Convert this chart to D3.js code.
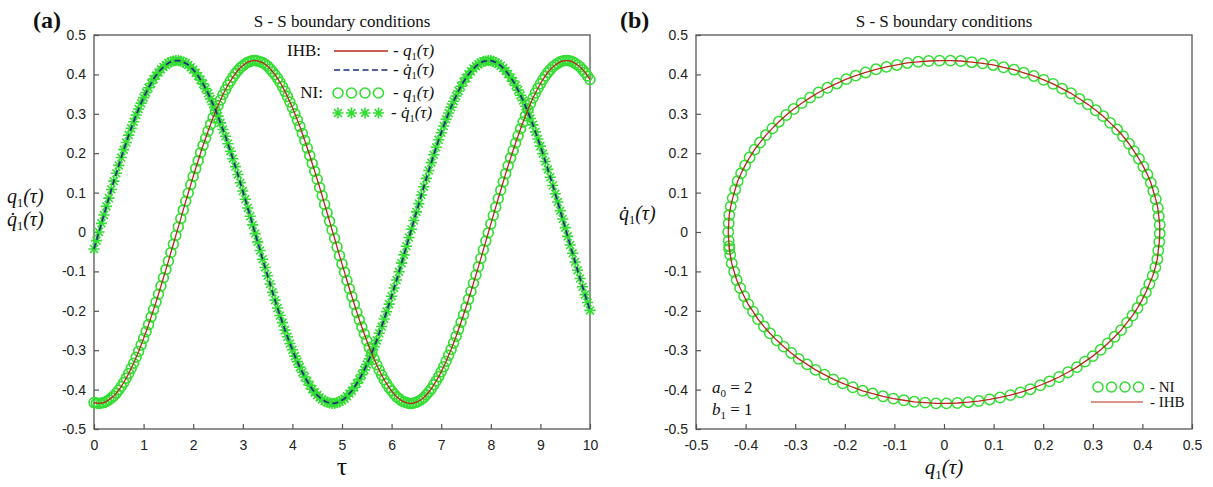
<!DOCTYPE html>
<html><head><meta charset="utf-8">
<script src="https://cdn.jsdelivr.net/npm/d3@7"></script>
<style>body{margin:0;background:#fff} svg{display:block}</style>
</head><body>
<svg id="c" width="1213" height="487"></svg>
<script>
// ---- data ----
const tauStep = 0.05;            // NI / IHB sampling step in tau
const q1 = [
-0.433,-0.434,-0.435,-0.434,-0.433,-0.430,-0.426,-0.421,-0.416,-0.409,
-0.401,-0.392,-0.382,-0.371,-0.359,-0.346,-0.333,-0.318,-0.303,-0.287,
-0.270,-0.253,-0.235,-0.216,-0.197,-0.178,-0.158,-0.137,-0.116,-0.095,
-0.074,-0.052,-0.031,-0.009,0.013,0.034,0.056,0.078,0.099,0.120,
0.141,0.161,0.181,0.201,0.220,0.238,0.256,0.273,0.290,0.306,
0.321,0.335,0.349,0.361,0.373,0.383,0.393,0.402,0.410,0.417,
0.422,0.427,0.431,0.433,0.435,0.435,0.434,0.432,0.430,0.426,
0.421,0.414,0.407,0.399,0.390,0.380,0.369,0.357,0.344,0.330,
0.316,0.300,0.284,0.268,0.250,0.232,0.213,0.194,0.174,0.154,
0.134,0.113,0.092,0.070,0.049,0.027,0.005,-0.016,-0.038,-0.060,
-0.081,-0.102,-0.123,-0.144,-0.164,-0.184,-0.204,-0.223,-0.241,-0.259,
-0.276,-0.293,-0.308,-0.323,-0.337,-0.351,-0.363,-0.375,-0.385,-0.395,
-0.403,-0.411,-0.418,-0.423,-0.428,-0.431,-0.433,-0.435,-0.435,-0.434,
-0.432,-0.429,-0.425,-0.420,-0.413,-0.406,-0.398,-0.388,-0.378,-0.367,
-0.355,-0.342,-0.328,-0.313,-0.298,-0.282,-0.265,-0.247,-0.229,-0.210,
-0.191,-0.171,-0.151,-0.130,-0.109,-0.088,-0.067,-0.045,-0.023,-0.002,
0.020,0.042,0.063,0.085,0.106,0.127,0.148,0.168,0.188,0.207,
0.226,0.244,0.262,0.279,0.295,0.311,0.326,0.340,0.353,0.365,
0.376,0.387,0.396,0.405,0.412,0.419,0.424,0.428,0.432,0.434,
0.435,0.435,0.434,0.432,0.428,0.424,0.419,0.412,0.405,0.396,
0.387];
const q1dot = [
-0.043,-0.022,0.000,0.022,0.043,0.065,0.086,0.108,0.129,0.149,
0.169,0.189,0.209,0.227,0.246,0.263,0.280,0.297,0.312,0.327,
0.341,0.354,0.366,0.377,0.388,0.397,0.405,0.413,0.419,0.424,
0.429,0.432,0.434,0.435,0.435,0.434,0.431,0.428,0.424,0.418,
0.412,0.404,0.396,0.386,0.376,0.364,0.352,0.338,0.324,0.309,
0.294,0.277,0.260,0.243,0.224,0.205,0.186,0.166,0.146,0.125,
0.104,0.083,0.061,0.040,0.018,-0.004,-0.025,-0.047,-0.069,-0.090,
-0.111,-0.132,-0.153,-0.173,-0.193,-0.212,-0.230,-0.249,-0.266,-0.283,
-0.299,-0.315,-0.329,-0.343,-0.356,-0.368,-0.379,-0.389,-0.399,-0.407,
-0.414,-0.420,-0.425,-0.429,-0.432,-0.434,-0.435,-0.435,-0.433,-0.431,
-0.427,-0.423,-0.417,-0.410,-0.403,-0.394,-0.384,-0.374,-0.362,-0.350,
-0.336,-0.322,-0.307,-0.291,-0.275,-0.257,-0.240,-0.221,-0.202,-0.183,
-0.163,-0.142,-0.122,-0.101,-0.079,-0.058,-0.036,-0.014,0.007,0.029,
0.051,0.072,0.094,0.115,0.136,0.156,0.176,0.196,0.215,0.234,
0.252,0.269,0.286,0.302,0.317,0.332,0.345,0.358,0.370,0.381,
0.391,0.400,0.408,0.415,0.421,0.426,0.430,0.433,0.434,0.435,
0.435,0.433,0.430,0.427,0.422,0.416,0.409,0.401,0.392,0.383,
0.372,0.360,0.347,0.334,0.319,0.304,0.288,0.272,0.254,0.236,
0.218,0.199,0.179,0.159,0.139,0.118,0.097,0.076,0.054,0.033,
0.011,-0.011,-0.033,-0.054,-0.076,-0.097,-0.118,-0.139,-0.159,-0.179,
-0.199];
const loopPoints = 127;          // samples forming one closed orbit in panel (b)
const xTicksA = [0,1,2,3,4,5,6,7,8,9,10];
const yTicks  = [-0.5,-0.4,-0.3,-0.2,-0.1,0,0.1,0.2,0.3,0.4,0.5];
const xTicksB = [-0.5,-0.4,-0.3,-0.2,-0.1,0,0.1,0.2,0.3,0.4,0.5];
const titleText = "S - S boundary conditions";

// ---- layout ----
const svg = d3.select("#c");
const A = {x0:94, x1:590, y0:35, y1:429};
const B = {x0:696, x1:1192, y0:35, y1:429};
const xA = d3.scaleLinear().domain([0,10]).range([A.x0,A.x1]);
const yA = d3.scaleLinear().domain([-0.5,0.5]).range([A.y1,A.y0]);
const xB = d3.scaleLinear().domain([-0.5,0.5]).range([B.x0,B.x1]);
const yB = d3.scaleLinear().domain([-0.5,0.5]).range([B.y1,B.y0]);

const GREEN = "#33dd33", RED = "#b8281f", NAVY = "#1d2c80";
const SANS = "'Liberation Sans', Arial, sans-serif";
const SERIF = "'Liberation Serif', 'Times New Roman', serif";
const fmt = d => d === 0 ? "0" : (Number.isInteger(d) ? String(d) : d.toFixed(1));

const pts = q1.map((v,i) => ({t: i*tauStep, q: v, qd: q1dot[i]}));

function axes(P, xs, ys, xt) {
  const gx = svg.append("g").attr("transform", `translate(0,${P.y1})`)
    .call(d3.axisBottom(xs).tickValues(xt).tickFormat(fmt).tickSizeInner(-5).tickSizeOuter(0).tickPadding(11));
  const gy = svg.append("g").attr("transform", `translate(${P.x0},0)`)
    .call(d3.axisLeft(ys).tickValues(yTicks).tickFormat(fmt).tickSizeInner(-5).tickSizeOuter(0).tickPadding(8));
  [gx, gy].forEach(g => {
    g.select(".domain").remove();
    g.selectAll("line").attr("stroke", "#555").attr("stroke-width", 1.2);
    g.selectAll("text").attr("fill", "#222").style("font-family", SANS).style("font-size", "14px");
  });
  svg.append("rect").attr("x", P.x0).attr("y", P.y0)
    .attr("width", P.x1 - P.x0).attr("height", P.y1 - P.y0)
    .attr("fill", "none").attr("stroke", "#555").attr("stroke-width", 1.3);
}

function starPath(r) {
  const a = r * 0.7071;
  return `M${-r},0H${r}M0,${-r}V${r}M${-a},${-a}L${a},${a}M${-a},${a}L${a},${-a}`;
}

// q label as text with tspans: q(dot)_1(τ)
function qText(parent, x, y, size, dot, anchor, prefix) {
  const t = parent.append("text").attr("x", x).attr("y", y)
    .attr("text-anchor", anchor || "start")
    .style("font-family", SERIF).style("font-size", size + "px").attr("fill", "#111");
  if (prefix) t.append("tspan").text(prefix);
  t.append("tspan").style("font-style", "italic").text(dot ? "q\u0307" : "q");
  t.append("tspan").attr("dy", size * 0.22).style("font-size", (size * 0.62) + "px").text("1");
  t.append("tspan").attr("dy", -size * 0.22).style("font-style", "italic").text("(τ)");
  return t;
}

// ---- panel (a) ----
axes(A, xA, yA, xTicksA);

svg.append("g").selectAll("circle").data(pts).join("circle")
  .attr("cx", d => xA(d.t)).attr("cy", d => yA(d.q)).attr("r", 4.9)
  .attr("fill", "none").attr("stroke", GREEN).attr("stroke-width", 1.7);
svg.append("g").selectAll("path").data(pts).join("path")
  .attr("transform", d => `translate(${xA(d.t)},${yA(d.qd)})`)
  .attr("d", starPath(5.6)).attr("fill", "none").attr("stroke", GREEN).attr("stroke-width", 1.6);

svg.append("path").datum(pts)
  .attr("d", d3.line().x(d => xA(d.t)).y(d => yA(d.q)))
  .attr("fill", "none").attr("stroke", RED).attr("stroke-width", 1.3);
svg.append("path").datum(pts)
  .attr("d", d3.line().x(d => xA(d.t)).y(d => yA(d.qd)))
  .attr("fill", "none").attr("stroke", NAVY).attr("stroke-width", 1.7).attr("stroke-dasharray", "6,3.5");

// legend (a)
const LA = svg.append("g");
const serifTxt = (g, x, y, s, txt, anchor, size) => g.append("text").attr("x", x).attr("y", y)
  .attr("text-anchor", anchor || "start").style("font-family", SERIF).style("font-size", (size||17) + "px")
  .attr("fill", "#111").text(txt);
serifTxt(LA, 321, 56, 0, "IHB:", "end");
LA.append("line").attr("x1", 334).attr("x2", 388).attr("y1", 51).attr("y2", 51).attr("stroke", RED).attr("stroke-width", 1.3);
qText(LA, 393, 56, 17, false, "start", "- ");
LA.append("line").attr("x1", 334).attr("x2", 388).attr("y1", 70).attr("y2", 70).attr("stroke", NAVY).attr("stroke-width", 1.6).attr("stroke-dasharray", "6,3.5");
qText(LA, 393, 75, 17, true, "start", "- ");
serifTxt(LA, 323, 98, 0, "NI:", "end");
[338, 351.5, 365, 378.5].forEach(x => LA.append("circle").attr("cx", x).attr("cy", 93).attr("r", 5)
  .attr("fill", "none").attr("stroke", GREEN).attr("stroke-width", 1.6));
qText(LA, 393, 98, 17, false, "start", "- ");
[338, 351.5, 365, 378.5].forEach(x => LA.append("path").attr("transform", `translate(${x},113)`)
  .attr("d", starPath(5.5)).attr("fill", "none").attr("stroke", GREEN).attr("stroke-width", 1.6));
qText(LA, 391, 118, 17, true, "start", "- ");

// titles and labels (a)
serifTxt(svg, (A.x0 + A.x1) / 2, 27, 0, titleText, "middle", 17);
svg.append("text").attr("x", 33).attr("y", 28).style("font-family", SERIF).style("font-size", "24px")
  .style("font-weight", "bold").attr("fill", "#111").text("(a)");
qText(svg, 7, 203, 20, false, "start");
qText(svg, 7, 226, 20, true, "start");
svg.append("text").attr("x", (A.x0 + A.x1) / 2).attr("y", 475).attr("text-anchor", "middle")
  .style("font-family", SERIF).style("font-size", "26px").attr("fill", "#111").text("τ");

// ---- panel (b) ----
axes(B, xB, yB, xTicksB);
const loop = pts.slice(0, loopPoints);
svg.append("g").selectAll("circle").data(loop).join("circle")
  .attr("cx", d => xB(d.q)).attr("cy", d => yB(d.qd)).attr("r", 5.2)
  .attr("fill", "none").attr("stroke", GREEN).attr("stroke-width", 1.5);
svg.append("path").datum(loop)
  .attr("d", d3.line().x(d => xB(d.q)).y(d => yB(d.qd)).curve(d3.curveLinearClosed))
  .attr("fill", "none").attr("stroke", RED).attr("stroke-width", 1.3);

serifTxt(svg, (B.x0 + B.x1) / 2, 27, 0, titleText, "middle", 17);
svg.append("text").attr("x", 620).attr("y", 28).style("font-family", SERIF).style("font-size", "24px")
  .style("font-weight", "bold").attr("fill", "#111").text("(b)");
qText(svg, 619, 220, 20, true, "start");
qText(svg, (B.x0 + B.x1) / 2, 474, 21, false, "middle");

// parameter annotations
function paramText(x, y, letter, sub, rest) {
  const t = svg.append("text").attr("x", x).attr("y", y).style("font-family", SERIF)
    .style("font-size", "17px").attr("fill", "#111");
  t.append("tspan").style("font-style", "italic").text(letter);
  t.append("tspan").attr("dy", 4).style("font-size", "11px").text(sub);
  t.append("tspan").attr("dy", -4).text(rest);
}
paramText(712, 393, "a", "0", " = 2");
paramText(712, 415, "b", "1", " = 1");

// legend (b)
[1098, 1111.5, 1125, 1138.5].forEach(x => svg.append("circle").attr("cx", x).attr("cy", 387).attr("r", 5)
  .attr("fill", "none").attr("stroke", GREEN).attr("stroke-width", 1.5));
serifTxt(svg, 1150, 392, 0, "- NI", "start", 15);
svg.append("line").attr("x1", 1091).attr("x2", 1143).attr("y1", 402).attr("y2", 402).attr("stroke", RED).attr("stroke-width", 1.2);
serifTxt(svg, 1150, 407, 0, "- IHB", "start", 15);
</script>
</body></html>
